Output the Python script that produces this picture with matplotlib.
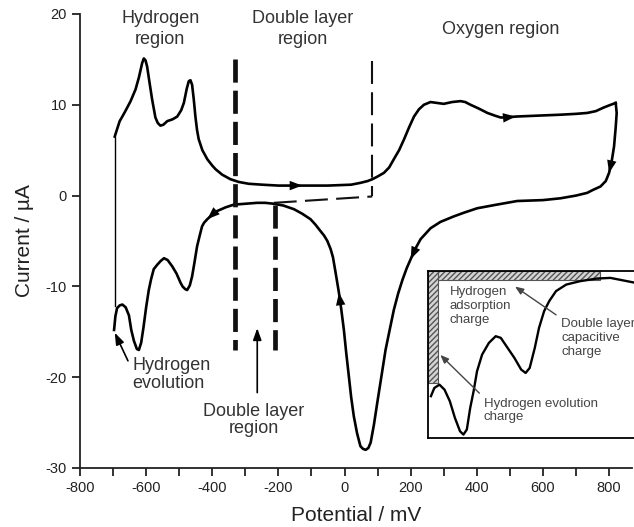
import numpy as np
import matplotlib
matplotlib.use("Agg")
import matplotlib.pyplot as plt
from matplotlib.patches import Rectangle

plt.rcParams['font.family'] = ['Liberation Sans', 'DejaVu Sans']
plt.rcParams['axes.unicode_minus'] = False

# anodic sweep (-700 -> +820 mV)
anodicMv = [-695, -688, -680, -672, -660, -647, -632, -622, -612, -607, -602, -597, -590,
            -582, -572, -565, -557, -548, -536, -520, -506, -494, -486, -477, -471, -466,
            -461, -456, -451, -446, -441, -430, -415, -400, -390, -370, -345, -320, -290,
            -250, -200, -128, -50, 20, 48, 70, 84, 100, 119, 135, 149, 165, 180, 195, 210,
            225, 240, 260, 280, 300, 325, 351, 365, 381, 405, 432, 455, 472, 490, 517, 582,
            650, 700, 734, 760, 784, 805, 820]
anodicUa = [6.5, 7.3, 8.2, 8.7, 9.5, 10.4, 11.7, 13.0, 14.6, 15.1, 14.9, 14.2, 12.5,
            10.6, 8.6, 8.0, 7.7, 7.8, 8.2, 8.4, 8.7, 9.4, 10.2, 11.8, 12.6, 12.7,
            12.2, 10.6, 8.7, 7.2, 6.2, 5.0, 4.0, 3.3, 2.9, 2.3, 1.8, 1.5, 1.3,
            1.2, 1.1, 1.1, 1.1, 1.2, 1.4, 1.6, 1.8, 2.1, 2.5, 3.1, 4.0, 5.0, 6.2, 7.5, 8.7,
            9.5, 10.0, 10.3, 10.2, 10.1, 10.3, 10.4, 10.3, 10.0, 9.6, 9.1, 8.8, 8.6, 8.6, 8.7, 8.8,
            8.9, 9.0, 9.1, 9.3, 9.7, 10.0, 10.2]

# cathodic sweep (+820 -> -700 mV)
cathodicMv = [820, 823, 820, 815, 808, 800, 790, 774, 750, 734, 700, 653, 600, 522, 460,
              401, 360, 330, 290, 260, 230, 215, 200, 188, 175, 162, 149, 137, 124, 112,
              99, 89, 79, 72, 64, 56, 48, 38, 28, 20, 13, 5, -2, -10, -17, -22, -27, -35,
              -42, -52, -62, -73, -88, -103, -128, -153, -185, -214, -240, -264, -300,
              -335, -360, -385, -400, -415, -425, -431, -438, -446, -454, -461, -468,
              -476, -482, -490, -496, -508, -521, -535, -546, -556, -566, -577, -585,
              -592, -600, -608, -615, -622, -628, -637, -645, -652, -662, -672, -680,
              -688, -693, -697]
cathodicUa = [10.2, 9.1, 7.5, 5.4, 3.8, 2.5, 1.6, 1.0, 0.6, 0.3, 0.0, -0.3, -0.5, -0.6, -1.0,
              -1.4, -1.9, -2.3, -2.9, -3.6, -4.8, -5.8, -7.0, -8.0, -9.3, -10.8, -12.6, -14.7, -17.0, -19.8,
              -22.8, -25.2, -27.2, -27.8, -28.0, -27.9, -27.6, -26.2, -24.3, -22.2, -19.9, -17.3, -14.8, -12.5, -10.7, -9.6, -8.5, -6.8,
              -5.9, -5.0, -4.4, -3.9, -3.2, -2.6, -2.0, -1.5, -1.1, -0.9, -0.8, -0.8, -0.9,
              -1.0, -1.3, -1.7, -2.1, -2.6, -3.0, -3.4, -4.4, -5.6, -7.4, -8.9, -9.9,
              -10.4, -10.3, -10.0, -9.6, -8.6, -7.8, -7.1, -6.9, -7.2, -7.6, -8.1, -9.2,
              -10.4, -12.3, -14.5, -16.2, -17.0, -16.9, -16.0, -14.8, -13.2, -12.3, -12.0, -12.1,
              -12.4, -13.3, -14.8]

# potentials where the sweep-direction arrowheads sit
anodicArrowMv = [-128, 517]
cathodicArrowMv = [800, 200, -17, -415]

# vertical connection at the switching potential
switchMv = -695
switchUa = (-12.2, 6.5)

# double-layer guides
dlLeft, dlRight, oxStart = -330, -209, 84
baselineMv = [-214, oxStart]
baselineUa = [-0.8, -0.1]

# inset curve (axes fraction units)
insetX = [0.014, 0.030, 0.054, 0.078, 0.103, 0.127, 0.151, 0.167, 0.183, 0.199, 0.215,
          0.231, 0.255, 0.287, 0.319, 0.343, 0.375, 0.407, 0.439, 0.460, 0.479, 0.503,
          0.523, 0.547, 0.571, 0.603, 0.651, 0.715, 0.795, 0.859, 0.923, 0.979]
insetY = [0.250, 0.299, 0.319, 0.289, 0.220, 0.120, 0.040, 0.020, 0.050, 0.180, 0.280,
          0.399, 0.499, 0.569, 0.609, 0.599, 0.539, 0.479, 0.409, 0.389, 0.419, 0.539,
          0.659, 0.759, 0.819, 0.879, 0.918, 0.938, 0.954, 0.958, 0.942, 0.928]

fig = plt.figure(figsize=(6.34, 5.27), dpi=100)
ax = fig.add_axes([0.1262, 0.1120, 0.871, 0.8615])

ax.plot(anodicMv, anodicUa, color='k', lw=1.9, solid_joinstyle='round')
ax.plot(cathodicMv, cathodicUa, color='k', lw=1.9, solid_joinstyle='round')
ax.plot([switchMv, switchMv], switchUa, color='k', lw=1.0)

headStyle = '-|>,head_length=0.9,head_width=0.34'
for xs, ys, marks in [(anodicMv, anodicUa, anodicArrowMv), (cathodicMv, cathodicUa, cathodicArrowMv)]:
    for v in marks:
        i = xs.index(v)
        ax.annotate('', xy=(xs[i], ys[i]), xytext=(xs[i - 1], ys[i - 1]),
                    arrowprops=dict(arrowstyle=headStyle, color='k', lw=0.01, shrinkA=0, shrinkB=0))

ax.plot([dlLeft, dlLeft], [15.0, -17.0], color='#111111', lw=3.4, ls=(0, (4.9, 1.7)))
ax.plot([dlRight, dlRight], [-1.0, -17.0], color='#111111', lw=3.4, ls=(0, (4.9, 1.7)))
ax.plot([oxStart, oxStart], [14.8, -0.1], color='#111111', lw=1.5, ls=(0, (11, 4)))
ax.plot(baselineMv, baselineUa, color='#111111', lw=1.5, ls=(0, (11, 4)))

txt = '#333333'
ax.text(-557, 18.3, 'Hydrogen\nregion', ha='center', va='center', fontsize=13, color=txt, linespacing=1.3)
ax.text(-127, 18.3, 'Double layer\nregion', ha='center', va='center', fontsize=13, color=txt, linespacing=1.3)
ax.text(472, 18.3, 'Oxygen region', ha='center', va='center', fontsize=13, color=txt)
ax.text(-642, -19.7, 'Hydrogen\nevolution', ha='left', va='center', fontsize=13, color=txt, linespacing=1.05)
ax.text(-275, -24.7, 'Double layer\nregion', ha='center', va='center', fontsize=13, color=txt, linespacing=1.05)
ax.annotate('', xy=(-695, -15.1), xytext=(-655, -18.2),
            arrowprops=dict(arrowstyle='-|>,head_length=0.7,head_width=0.25', color='k', lw=1.2,
                            shrinkA=0, shrinkB=0))
ax.annotate('', xy=(-264, -14.6), xytext=(-264, -21.7),
            arrowprops=dict(arrowstyle='-|>,head_length=0.7,head_width=0.25', color='k', lw=1.2,
                            shrinkA=0, shrinkB=0))

ax.set_xlim(-800, 870)
ax.set_ylim(-30, 20)
ax.set_xticks(np.arange(-800, 801, 200))
ax.set_xticks(np.arange(-700, 801, 200), minor=True)
ax.set_yticks(np.arange(-30, 21, 10))
ax.spines['top'].set_visible(False)
ax.spines['right'].set_visible(False)
for s in ['left', 'bottom']:
    ax.spines[s].set_linewidth(1.3)
    ax.spines[s].set_color('#222222')
ax.tick_params(which='both', direction='out', length=6, width=1.3, colors='#222222', labelsize=10.5)
ax.set_xlabel('Potential / mV', fontsize=15, color='#222222', labelpad=8)
ax.set_ylabel('Current / µA', fontsize=15, color='#222222', labelpad=8)

# inset
ins = fig.add_axes([0.675, 0.169, 0.335, 0.317])
ins.set_xlim(0, 1)
ins.set_ylim(0, 1)
ins.set_xticks([])
ins.set_yticks([])
for s in ins.spines.values():
    s.set_linewidth(1.3)
plt.rcParams['hatch.color'] = '#666666'
ins.add_patch(Rectangle((0, 0.944), 0.811, 0.056, facecolor='#d4d4d4', edgecolor='#555555',
                        hatch='//////', lw=0.8))
ins.add_patch(Rectangle((0, 0.329), 0.046, 0.671, facecolor='#d4d4d4', edgecolor='#555555',
                        hatch='//////', lw=0.8))
ins.plot(insetX, insetY, color='k', lw=1.7)
grey = '#444444'
ins.text(0.103, 0.91, 'Hydrogen\nadsorption\ncharge', ha='left', va='top', fontsize=9.5, color=grey, linespacing=1.25)
ins.text(0.627, 0.72, 'Double layer\ncapacitive\ncharge', ha='left', va='top', fontsize=9.5, color=grey, linespacing=1.25)
ins.text(0.263, 0.24, 'Hydrogen evolution\ncharge', ha='left', va='top', fontsize=9.5, color=grey, linespacing=1.1)
ins.annotate('', xy=(0.410, 0.906), xytext=(0.603, 0.737),
             arrowprops=dict(arrowstyle='-|>,head_length=0.5,head_width=0.2', color=grey, lw=1.0,
                             shrinkA=0, shrinkB=0))
ins.annotate('', xy=(0.058, 0.497), xytext=(0.242, 0.268),
             arrowprops=dict(arrowstyle='-|>,head_length=0.5,head_width=0.2', color=grey, lw=1.0,
                             shrinkA=0, shrinkB=0))

fig.savefig('out.png', dpi=100)
